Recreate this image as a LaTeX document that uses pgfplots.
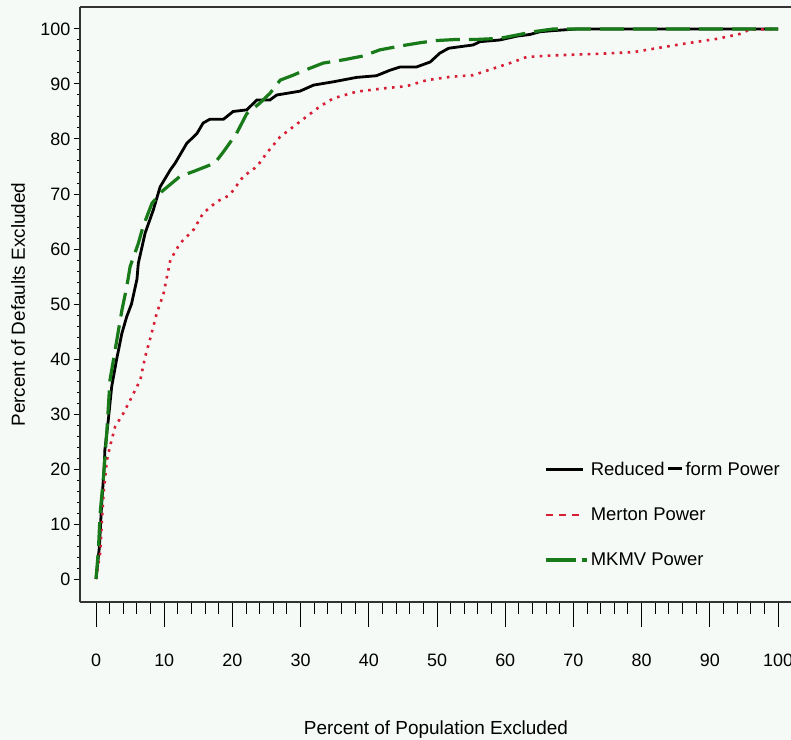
\documentclass[border=0pt]{standalone}
\usepackage{fontspec}
\setmainfont{Liberation Sans}
\usepackage{pgfplots}
\pgfplotsset{compat=1.18}
\usetikzlibrary{calc,backgrounds}
\definecolor{bgc}{RGB}{246,250,247}
\definecolor{mkmv}{RGB}{24,122,24}
\definecolor{merton}{RGB}{214,30,52}

\begin{document}
\begin{tikzpicture}
\begin{axis}[
    name=main,
    scale only axis,
    width=712bp, height=595bp,
    xmin=-2.35, xmax=102.05, ymin=-4.18, ymax=104,
    axis x line*=box, axis y line*=left,
    axis line style={line width=1.2bp, black!80},
    xtick={0,10,...,100}, ytick={0,10,...,100},
    minor x tick num=4, minor y tick num=4,
    xtick pos=bottom, ytick pos=left,
    tick align=outside,
    xtick style={/pgfplots/major tick length=25bp, line width=1bp, black},
    minor x tick style={/pgfplots/minor tick length=12bp, line width=1bp, black},
    ytick style={/pgfplots/major tick length=6bp, line width=1bp, black},
    minor y tick style={/pgfplots/minor tick length=3bp, line width=1bp, black},
    /pgf/number format/assume math mode=true,
    tick label style={font=\fontsize{18}{18}\selectfont},
    xticklabel style={yshift=-44bp},
    yticklabel style={xshift=-2bp},
    xlabel={Percent of Population Excluded},
    ylabel={Percent of Defaults Excluded},
    label style={font=\fontsize{19}{19}\selectfont},
    xlabel style={at={(axis description cs:0.5,-0.2151)}, anchor=center},
    ylabel style={at={(axis description cs:-0.0871,0.5)}, anchor=center},
    legend cell align=left,
    legend style={draw=none, fill=none, font=\fontsize{18.5}{18.5}\selectfont,
        at={(axis cs:65.2,22)}, anchor=north west, row sep=27bp},
    legend image code/.code={\draw[#1] (0bp,0bp) -- (37bp,0bp);},
]
\addplot[black, line width=2.8bp] coordinates {
(0,0) (0.5,5.9) (0.8,13.1) (1.2,20.4) (1.3,23.5) (1.8,28.9) (2.3,35.0) (3.0,39.8)
(3.8,44.7) (4.5,47.7) (5.2,50) (6.0,54.5) (6.2,57.4) (7.2,62.9) (8.4,67.1) (9.4,71.3)
(10.9,74.4) (11.6,75.6) (13.3,79.2) (14.8,81.0) (15.7,82.9) (16.7,83.6) (18.7,83.6)
(20.1,85.0) (22.1,85.3) (23.6,87.1) (25.5,87.1) (26.5,88.0) (29.9,88.7) (31.9,89.8)
(34.8,90.4) (38.2,91.2) (41.1,91.5) (43.1,92.5) (44.6,93.1) (47,93.1) (49,94.0)
(50.4,95.6) (51.7,96.5) (55.3,97.1) (56.3,97.7) (59.2,98.0) (61.7,98.7) (63.6,99.0)
(65.1,99.5) (67,99.7) (70.5,100) (100,100)
};
\addlegendentry{Reduced\,\rule[0.3em]{0.8em}{0.14em}\,form Power}
\addplot[merton, line width=2.6bp, dash pattern=on 2.6bp off 5.4bp,
  legend image code/.code={\draw[merton, line width=2.6bp, dash pattern=on 7bp off 6bp] (0bp,0bp) -- (37bp,0bp);}]
 coordinates {
(0,0) (0.6,4.7) (1.1,15.6) (1.6,21.6) (2.05,24.1) (2.8,27.7) (4,30.1) (5,32.5)
(6.5,36.2) (7.2,40.4) (7.9,43.5) (8.9,48.3) (9.9,51.9) (10.9,58.0) (12.3,61.0)
(14.3,63.5) (15.7,66.5) (17.7,68.6) (19.6,69.8) (21.6,73.2) (23.6,75.0) (25,77.4)
(27,80.4) (28.9,82.2) (30.9,84.1) (32.8,85.9) (34.8,87.4) (38.2,88.6) (42.1,89.2)
(45.5,89.6) (48.5,90.7) (51.9,91.3) (55.3,91.6) (58.2,92.8) (61.2,94.0) (63.1,94.9)
(67,95.2) (73.9,95.5) (78.8,95.8) (81.7,96.4) (86.1,97.3) (91,98.2) (94.4,99.1)
(95.9,99.9) (100,100)
};
\addlegendentry{Merton Power}
\addplot[mkmv, line width=3.2bp, dash pattern=on 24bp off 9bp,
  legend image code/.code={\draw[mkmv, line width=4bp, dash pattern=on 30bp off 6bp on 5bp off 6bp] (0bp,0bp) -- (41bp,0bp);}]
 coordinates {
(0,0) (0.35,5.3) (0.6,11.9) (1.1,18.6) (1.6,27.1) (2.05,36.2) (2.8,41.6) (3.3,45.3)
(3.8,48.9) (4.5,53.1) (5,56.8) (6.2,61.0) (6.9,64.1) (8.2,68.3) (9.6,70.4) (12.3,73.2)
(14.3,74.1) (17.4,75.6) (18.7,77.7) (20.6,81.0) (22.1,84.6) (24,86.5) (25.5,88.3)
(27,90.7) (28.9,91.6) (30.4,92.4) (33.3,93.8) (36.3,94.4) (39.2,95.1) (41.6,96.2)
(44.6,96.9) (47.5,97.5) (49.9,97.9) (52.9,98.1) (55.8,98.1) (59.2,98.3) (61.7,98.9)
(64.1,99.5) (67,100) (100,100)
};
\addlegendentry{MKMV Power}
\end{axis}
\pgfresetboundingbox
\path[use as bounding box] ($(main.south west)+(-80bp,-138bp)$) rectangle ($(main.south west)+(711bp,602bp)$);
\begin{pgfonlayer}{background}
\fill[bgc] ($(main.south west)+(-80bp,-138bp)$) rectangle ($(main.south west)+(711bp,602bp)$);
\end{pgfonlayer}
\end{tikzpicture}
\end{document}
